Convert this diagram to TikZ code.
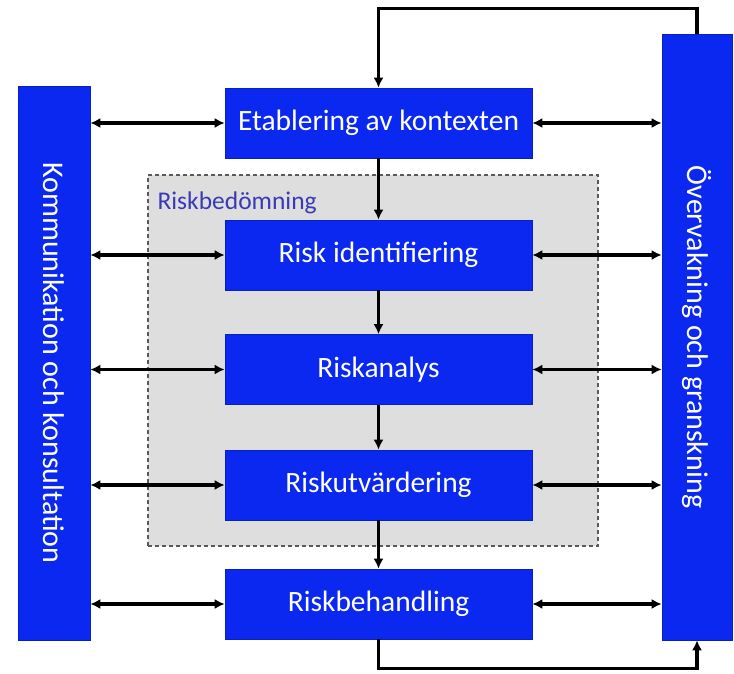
\documentclass[tikz,border=0pt]{standalone}
\usepackage{fontspec}
\setsansfont{Carlito}
\usetikzlibrary{arrows.meta,positioning}
\definecolor{RiskBlue}{HTML}{0A28F0}
\definecolor{RiskGrey}{HTML}{DEDEDE}
\definecolor{RiskFrame}{HTML}{5A5A5A}
\definecolor{RiskLabel}{HTML}{3A3AB8}

\begin{document}
\begin{tikzpicture}[x=1pt,y=1pt,font=\sffamily,>=Latex]
\tikzset{
  stage/.style={fill=RiskBlue,draw=RiskBlue!80!black,line width=0.6pt,minimum width=307pt,minimum height=70pt,text=white,font=\sffamily\fontsize{29.5}{32}\selectfont,align=center},
  sidebar/.style={fill=RiskBlue,draw=RiskBlue!80!black,line width=0.6pt,text=white,font=\sffamily\fontsize{30}{32}\selectfont},
  assess/.style={fill=RiskGrey,draw=RiskFrame,line width=1.2pt,dash pattern=on 4pt off 3pt,minimum width=450pt,minimum height=371pt},
  link/.style={line width=3.3pt,{Latex[length=10pt,width=10pt]}-{Latex[length=10pt,width=10pt]}},
  flow/.style={line width=3.3pt,-{Latex[length=10pt,width=10pt]}}
}
\useasboundingbox (0,0) rectangle (734,673);

% risk assessment frame
\node[assess] (bed) at (373,312.5) {};
\node[font=\sffamily\fontsize{25.5}{28}\selectfont,text=RiskLabel,anchor=north west] (bedlabel) at (154,485) {Riskbedömning};

% the two side bars
\node[sidebar,minimum width=554pt,minimum height=72pt,rotate=-90] (komm) at (54,310) {Kommunikation och konsultation};
\node[sidebar,minimum width=606pt,minimum height=70pt,rotate=-90] (overv) at (697,336) {Övervakning och granskning};

% process steps
\node[stage] (etab) at (378.5,550) {Etablering av kontexten};
\node[stage] (ident) at (378.5,418) {Risk identifiering};
\node[stage] (analys) at (378.5,303.5) {Riskanalys};
\node[stage] (utv) at (378.5,188) {Riskutvärdering};
\node[stage] (behand) at (378.5,69) {Riskbehandling};

\draw[flow] (etab) -- (ident);
\draw[flow] (ident) -- (analys);
\draw[flow] (analys) -- (utv);
\draw[flow] (utv) -- (behand);

\foreach \s in {etab,ident,analys,utv,behand}{
  \draw[link] (komm.north |- \s.west) -- (\s.west);
  \draw[link] (\s.east) -- (overv.south |- \s.east);
}

% feedback loops
\draw[flow] (overv.west) -- ++(0,25) -| (etab.north);
\draw[flow] (behand.south) -- ++(0,-29) -| (overv.east);
\end{tikzpicture}
\end{document}
